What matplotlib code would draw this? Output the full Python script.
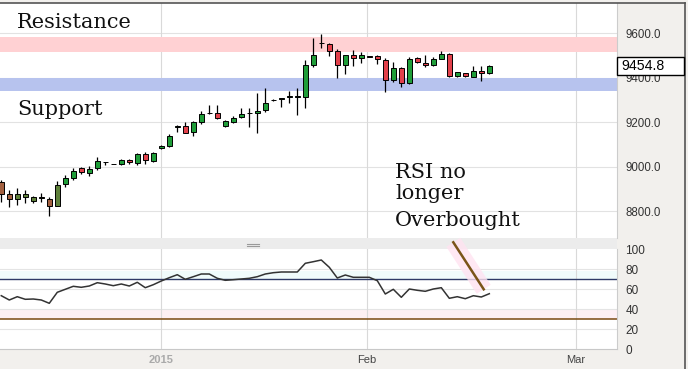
import matplotlib
matplotlib.use("Agg")
import matplotlib.pyplot as plt
import matplotlib.transforms as mtransforms
from matplotlib.patches import Rectangle
from matplotlib.lines import Line2D
import numpy as np

# ---------------- data ----------------
opens = [8932, 8877, 8853, 8862, 8847, 8861, 8853, 8824, 8920, 8950,
         8992, 8973, 8992, 9020, 9012, 9012, 9028, 9018, 9057, 9027,
         9082, 9094, 9179, 9183, 9157, 9202, 9240, 9240, 9184, 9202,
         9225, 9239, 9240, 9255, 9299, 9305, 9314, 9314, 9315, 9457,
         9554, 9552, 9520, 9455, 9502, 9487, 9496, 9498, 9480, 9390,
         9445, 9375, 9487, 9468, 9457, 9484, 9506, 9406, 9420, 9402,
         9432, 9420]
highs = [8940, 8895, 8902, 8895, 8868, 8883, 8865, 8937, 8962, 8992,
         9000, 9005, 9042, 9022, 9014, 9036, 9036, 9063, 9066, 9067,
         9097, 9147, 9187, 9202, 9207, 9250, 9277, 9276, 9210, 9228,
         9262, 9262, 9330, 9352, 9303, 9306, 9342, 9352, 9478, 9580,
         9596, 9558, 9530, 9503, 9525, 9517, 9498, 9500, 9490, 9472,
         9450, 9492, 9492, 9502, 9495, 9522, 9510, 9427, 9423, 9453,
         9453, 9457]
lows = [8842, 8820, 8827, 8835, 8838, 8842, 8780, 8822, 8910, 8940,
        8967, 8960, 8985, 9007, 9010, 9007, 9012, 9007, 9012, 9022,
        9080, 9087, 9157, 9150, 9138, 9190, 9238, 9213, 9180, 9195,
        9217, 9180, 9150, 9247, 9297, 9267, 9285, 9232, 9265, 9450,
        9532, 9498, 9397, 9418, 9453, 9465, 9492, 9462, 9337, 9382,
        9357, 9372, 9467, 9450, 9453, 9483, 9405, 9402, 9405, 9402,
        9383, 9417]
closes = [8877, 8853, 8877, 8877, 8862, 8862, 8824, 8917, 8950, 8980,
          8975, 8990, 9024, 9022, 9013, 9028, 9020, 9057, 9028, 9063,
          9093, 9138, 9181, 9153, 9199, 9235, 9241, 9217, 9205, 9220,
          9237, 9241, 9250, 9285, 9301, 9306, 9316, 9316, 9457, 9503,
          9556, 9522, 9455, 9502, 9487, 9500, 9494, 9483, 9391, 9445,
          9375, 9483, 9469, 9457, 9483, 9505, 9406, 9425, 9408, 9432,
          9420, 9454.8]
rsi = [53.6, 49.3, 52.6, 50, 50.3, 49.3, 46, 57, 60, 63,
       62, 63.3, 66.6, 65.3, 63.6, 65.3, 63.3, 67, 61.6, 64.6,
       68.3, 71.6, 74.6, 70, 72.6, 75.3, 75.3, 71, 69, 69.6,
       70.3, 71, 72.6, 75.3, 76.6, 77.3, 77.3, 77.3, 86, 87.6,
       89.3, 82, 71.3, 74.3, 72, 72, 72, 68.6, 55.3, 60,
       52, 60.3, 59, 58, 60.3, 61.6, 51, 52.6, 50.6, 53.6,
       52.3, 55.6]
price_ticks = [8800, 9000, 9200, 9400, 9600]
rsi_ticks = [0, 20, 40, 60, 80, 100]
month_labels = ["2015", "Feb", "Mar"]
month_pos = [19.96, 45.7, 71.8]          # bar-index position of month starts
resistance_band = (9515, 9582)
support_band = (9342, 9400)
rsi_levels = (30, 70)
rsi_trend_x = [56.5, 60.3]
rsi_trend_y = [107, 60]
last_price = 9454.8

# ---------------- figure ----------------
W, H = 688, 369
fig = plt.figure(figsize=(W / 100, H / 100), dpi=100)
BG = "#f2f0ed"
fig.patch.set_facecolor(BG)

def fy(py):
    return 1 - py / H

AX_R = 617
ax = fig.add_axes([0, fy(238), AX_R / W, (238 - 3) / H])
rx = fig.add_axes([0, fy(349.3), AX_R / W, (349.3 - 249.3) / H])

# separator strip between panels
fig.add_artist(Rectangle((0, fy(249)), AX_R / W, 11 / H, transform=fig.transFigure,
                         facecolor="#ececec", edgecolor="none", zorder=0))
for dy in (243.5, 245.5):
    fig.add_artist(Line2D([247 / W, 259 / W], [fy(dy), fy(dy)], transform=fig.transFigure,
                          color="#9a9a9a", lw=0.8))
# outer frame
fig.add_artist(Line2D([0, 685 / W], [fy(3), fy(3)], transform=fig.transFigure, color="#555555", lw=1.2))
fig.add_artist(Line2D([685 / W, 685 / W], [fy(3), 0], transform=fig.transFigure, color="#555555", lw=1.2))

idx = np.arange(len(closes))
o = np.array(opens, float); c = np.array(closes, float)
h = np.array(highs, float); l = np.array(lows, float)

xlim = (-0.16, 76.96)

# ---- price panel ----
ax.set_facecolor("white")
ax.set_xlim(*xlim)
ax.set_ylim(8679, 9736)
ax.axhspan(*resistance_band, color="#ffd1d3", zorder=0.5, lw=0)
ax.axhspan(*support_band, color="#b7c3ee", zorder=0.5, lw=0)
for t in price_ticks:
    ax.axhline(t, color="#e2e2e2", lw=0.8, zorder=0.3)
for p in month_pos:
    ax.axvline(p, color="#d9d9d9", lw=0.8, zorder=0.3)

green = np.array(matplotlib.colors.to_rgb("#1f9d39"))
red = np.array(matplotlib.colors.to_rgb("#e2414b"))
tint = np.array(matplotlib.colors.to_rgb("#80703a"))
colors = []
for k in idx:
    base = green if c[k] >= o[k] else red
    if k <= 7:
        base = 0.35 * base + 0.65 * tint
    colors.append(base)

ax.vlines(idx, l, h, color="black", lw=0.9, zorder=2)
body = np.abs(c - o)
ax.bar(idx, np.maximum(body, 1.5), bottom=np.minimum(o, c), width=0.62,
       color=colors, edgecolor="black", linewidth=0.7, zorder=3)

ax.yaxis.tick_right()
ax.set_yticks(price_ticks)
ax.set_yticklabels([f"{t:.1f}" for t in price_ticks], fontsize=8.3,
                   color="#333333", family="Liberation Sans")
ax.tick_params(axis="y", length=0, pad=6)
ax.tick_params(axis="x", length=0, labelbottom=False)
for s in ax.spines.values():
    s.set_visible(False)
ax.spines["right"].set_visible(True)
ax.spines["right"].set_color("#cccccc")

# last price box
fig.canvas.draw()
py_last = ax.transData.transform((0, last_price))[1]
box_h = 18
fig.add_artist(Rectangle((AX_R / W, (py_last - box_h / 2) / H), (684 - AX_R) / W, box_h / H,
                         transform=fig.transFigure, facecolor="white", edgecolor="black",
                         lw=1.0, zorder=5))
fig.text(621 / W, py_last / H, f"{last_price:.1f}", fontsize=10.2, family="Liberation Sans",
         color="black", va="center", ha="left", zorder=6)

# ---- RSI panel ----
rx.set_facecolor("white")
rx.set_xlim(*xlim)
rx.set_ylim(0, 100)
rx.axhspan(rsi_levels[1], 78, color="#f0fbfb", lw=0, zorder=0.2)
rx.axhspan(rsi_levels[0], 39, color="#fdf0f4", lw=0, zorder=0.2)
for t in [20, 40, 60, 80]:
    rx.axhline(t, color="#e4e4e4", lw=0.8, zorder=0.3)
for p in month_pos:
    rx.axvline(p, color="#d9d9d9", lw=0.8, zorder=0.3)
rx.axhline(rsi_levels[1], color="#2e3a66", lw=1.0, zorder=1)
rx.axhline(rsi_levels[0], color="#7a4a12", lw=1.1, zorder=1)
rx.plot(idx, rsi, color="#333333", lw=1.1, zorder=2)
rx.plot(rsi_trend_x, rsi_trend_y, color="#ffe3f1", lw=12, alpha=0.8,
        clip_on=False, zorder=1.5, solid_capstyle="butt")
rx.plot(rsi_trend_x, rsi_trend_y, color="#7a5418", lw=1.8, clip_on=False, zorder=3)

rx.yaxis.tick_right()
rx.set_yticks(rsi_ticks)
rx.set_yticklabels([str(t) for t in rsi_ticks], fontsize=8.5, color="#333333",
                   family="Liberation Sans")
rx.tick_params(axis="y", length=0, pad=6)
rx.set_xticks(month_pos)
rx.set_xticklabels(month_labels, fontsize=8, family="Liberation Sans")
rx.tick_params(axis="x", length=0, pad=4)
for lab in rx.get_xticklabels():
    if lab.get_text() == "2015":
        lab.set_color("#aaaaaa"); lab.set_fontweight("bold")
    else:
        lab.set_color("#444444")
for s in rx.spines.values():
    s.set_visible(False)
rx.spines["bottom"].set_visible(True)
rx.spines["bottom"].set_color("#c8c8c8")
rx.spines["right"].set_visible(True)
rx.spines["right"].set_color("#cccccc")

# ---- annotations ----
tkw = dict(family="DejaVu Serif", fontsize=15, color="#111111", va="baseline", ha="left")
fig.text(17 / W, fy(28), "Resistance", **tkw)
fig.text(17 / W, fy(114.5), "Support", **tkw)
fig.text(395 / W, fy(178), "RSI no", **tkw)
fig.text(395 / W, fy(199), "longer", **tkw)
fig.text(395 / W, fy(226), "Overbought", **tkw)

fig.savefig("out.png", dpi=100, facecolor=BG)
